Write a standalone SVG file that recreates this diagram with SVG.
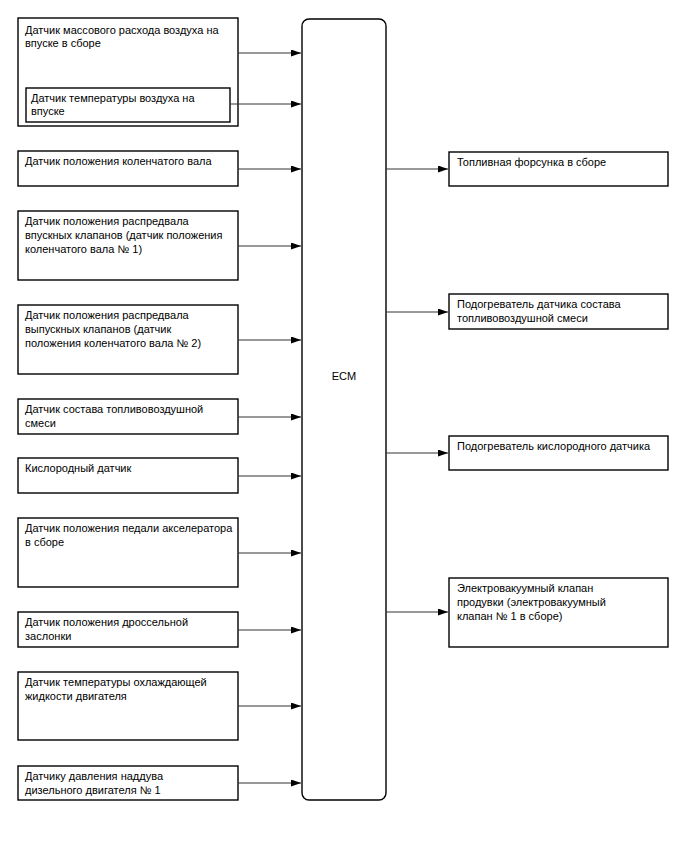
<svg xmlns="http://www.w3.org/2000/svg" width="688" height="852" viewBox="0 0 688 852">
<defs>
<marker id="arr" markerUnits="userSpaceOnUse" markerWidth="11" markerHeight="8" refX="10" refY="3.5" orient="auto">
<path d="M0,0 L10,3.5 L0,7 z" fill="#000"/>
</marker>
<style>
.box{fill:#fff;stroke:#000;stroke-width:1.4}
.t{font-family:"Liberation Sans",Arial,sans-serif;font-size:11px;fill:#000}
.c{stroke:#333;stroke-width:1;fill:none;marker-end:url(#arr)}
</style>
</defs>
<rect width="688" height="852" fill="#fff"/>
<g id="ecm">
<rect class="box" x="302" y="19" width="84" height="781" rx="7"/>
<text class="t" x="344" y="380" text-anchor="middle">ECM</text>
</g>
<g id="maf">
<rect class="box" x="18" y="18" width="220" height="108"/>
<text class="t" x="25" y="34">Датчик массового расхода воздуха на</text>
<text class="t" x="25" y="47">впуске в сборе</text>
</g>
<g id="iat">
<rect class="box" x="26" y="88" width="204" height="34"/>
<text class="t" x="31" y="102">Датчик температуры воздуха на</text>
<text class="t" x="31" y="115">впуске</text>
</g>
<g id="ckp">
<rect class="box" x="18" y="151" width="220" height="35"/>
<text class="t" x="25" y="165">Датчик положения коленчатого вала</text>
</g>
<g id="cmp-in">
<rect class="box" x="18" y="211" width="220" height="69"/>
<text class="t" x="25" y="225">Датчик положения распредвала</text>
<text class="t" x="25" y="239">впускных клапанов (датчик положения</text>
<text class="t" x="25" y="253">коленчатого вала № 1)</text>
</g>
<g id="cmp-ex">
<rect class="box" x="18" y="305" width="220" height="69"/>
<text class="t" x="25" y="319">Датчик положения распредвала</text>
<text class="t" x="25" y="333">выпускных клапанов (датчик</text>
<text class="t" x="25" y="347">положения коленчатого вала № 2)</text>
</g>
<g id="afs">
<rect class="box" x="18" y="399" width="220" height="35"/>
<text class="t" x="25" y="413">Датчик состава топливовоздушной</text>
<text class="t" x="25" y="427">смеси</text>
</g>
<g id="o2">
<rect class="box" x="18" y="458" width="220" height="35"/>
<text class="t" x="25" y="472">Кислородный датчик</text>
</g>
<g id="app">
<rect class="box" x="18" y="518" width="220" height="69"/>
<text class="t" x="25" y="532">Датчик положения педали акселератора</text>
<text class="t" x="25" y="546">в сборе</text>
</g>
<g id="tps">
<rect class="box" x="18" y="612" width="220" height="35"/>
<text class="t" x="25" y="626">Датчик положения дроссельной</text>
<text class="t" x="25" y="640">заслонки</text>
</g>
<g id="ect">
<rect class="box" x="18" y="672" width="220" height="68"/>
<text class="t" x="25" y="686">Датчик температуры охлаждающей</text>
<text class="t" x="25" y="700">жидкости двигателя</text>
</g>
<g id="boost">
<rect class="box" x="18" y="766" width="220" height="34"/>
<text class="t" x="25" y="780">Датчику давления наддува</text>
<text class="t" x="25" y="794">дизельного двигателя № 1</text>
</g>
<g id="inj">
<rect class="box" x="449" y="152" width="219" height="34"/>
<text class="t" x="457" y="166">Топливная форсунка в сборе</text>
</g>
<g id="afs-heater">
<rect class="box" x="449" y="294" width="219" height="35"/>
<text class="t" x="457" y="308">Подогреватель датчика состава</text>
<text class="t" x="457" y="322">топливовоздушной смеси</text>
</g>
<g id="o2-heater">
<rect class="box" x="449" y="436" width="219" height="34"/>
<text class="t" x="457" y="450">Подогреватель кислородного датчика</text>
</g>
<g id="vsv">
<rect class="box" x="449" y="578" width="219" height="69"/>
<text class="t" x="457" y="592">Электровакуумный клапан</text>
<text class="t" x="457" y="606">продувки (электровакуумный</text>
<text class="t" x="457" y="620">клапан № 1 в сборе)</text>
</g>
<g id="connectors">
<line class="c" x1="238" y1="53" x2="301" y2="53"/>
<line class="c" x1="230" y1="104" x2="301" y2="104"/>
<line class="c" x1="238" y1="169" x2="301" y2="169"/>
<line class="c" x1="238" y1="246" x2="301" y2="246"/>
<line class="c" x1="238" y1="340" x2="301" y2="340"/>
<line class="c" x1="238" y1="417" x2="301" y2="417"/>
<line class="c" x1="238" y1="476" x2="301" y2="476"/>
<line class="c" x1="238" y1="553" x2="301" y2="553"/>
<line class="c" x1="238" y1="630" x2="301" y2="630"/>
<line class="c" x1="238" y1="706" x2="301" y2="706"/>
<line class="c" x1="238" y1="783" x2="301" y2="783"/>
<line class="c" x1="386" y1="169" x2="448" y2="169"/>
<line class="c" x1="386" y1="312" x2="448" y2="312"/>
<line class="c" x1="386" y1="453" x2="448" y2="453"/>
<line class="c" x1="386" y1="612" x2="448" y2="612"/>
</g>
</svg>
